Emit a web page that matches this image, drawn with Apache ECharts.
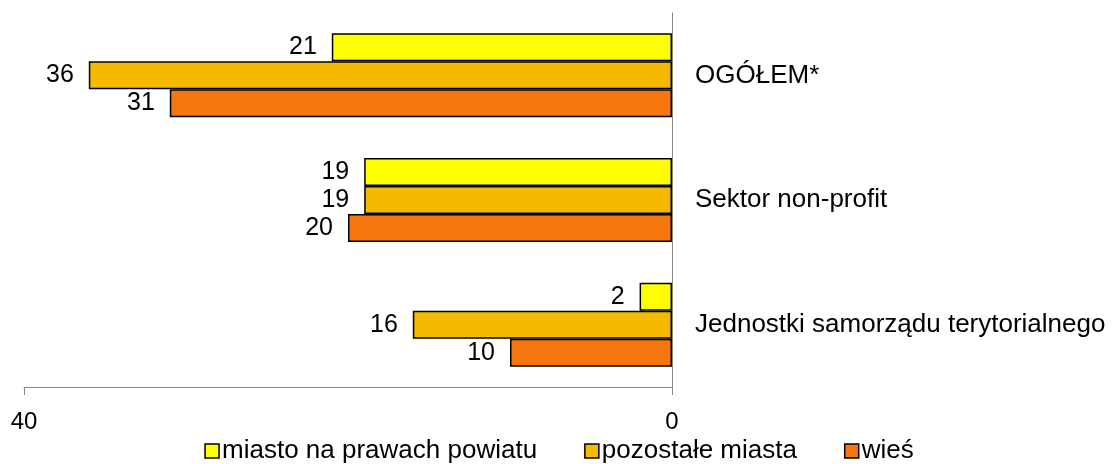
<!DOCTYPE html>
<html>
<head>
<meta charset="utf-8">
<script src="https://cdn.jsdelivr.net/npm/echarts@6/dist/echarts.min.js"></script>
<style>html,body{margin:0;padding:0;background:#fff}#c{width:1118px;height:464px}</style>
</head>
<body>
<div id="c"></div>
<script>
const categories = ['OGÓŁEM*', 'Sektor non-profit', 'Jednostki samorządu terytorialnego'];
const seriesNames = ['miasto na prawach powiatu', 'pozostałe miasta', 'wieś'];
const miastoNPP = [21, 19, 2];
const pozostaleMiasta = [36, 19, 16];
const wies = [31, 20, 10];
const xTicks = [0, 40];

const colors = ['#FFFF00', '#F5BA00', '#F5760C'];
const font = 'Liberation Sans, Arial, sans-serif';
const values = [miastoNPP, pozostaleMiasta, wies];

const chart = echarts.init(document.getElementById('c'), null, {renderer: 'canvas'});
chart.setOption({
  animation: false,
  textStyle: {fontFamily: font},
  grid: {left: 24, right: 446, top: 13, bottom: 77, containLabel: false},
  legend: {
    top: 438, left: 'center', padding: 0,
    itemWidth: 14, itemHeight: 14, itemGap: 47,
    icon: 'rect',
    textStyle: {fontSize: 26, color: '#000', fontFamily: font, padding: [0, 0, 0, -2]},
    data: seriesNames.map((n, i) => ({name: n, itemStyle: {color: colors[i], borderColor: '#000', borderWidth: 1.5}}))
  },
  xAxis: {
    type: 'value', inverse: true, min: xTicks[0], max: xTicks[1], interval: 40,
    splitLine: {show: false},
    axisLine: {show: true, lineStyle: {color: '#868686', width: 1}},
    axisTick: {show: true, length: 8, lineStyle: {color: '#868686'}},
    axisLabel: {fontSize: 24, color: '#000', margin: 23, fontFamily: font}
  },
  yAxis: {
    type: 'category', inverse: true, position: 'right', data: categories,
    axisLine: {show: true, onZero: false, lineStyle: {color: '#868686', width: 1}},
    axisTick: {show: false},
    axisLabel: {fontSize: 26, color: '#000', margin: 23, fontFamily: font}
  },
  series: seriesNames.map((n, i) => ({
    name: n, type: 'bar', data: values[i],
    barWidth: 28, barGap: '0%',
    itemStyle: {color: colors[i], borderColor: '#000', borderWidth: 1.5},
    label: {show: true, position: 'left', distance: 15, fontSize: 25, color: '#000', fontFamily: font}
  }))
});
</script>
</body>
</html>
